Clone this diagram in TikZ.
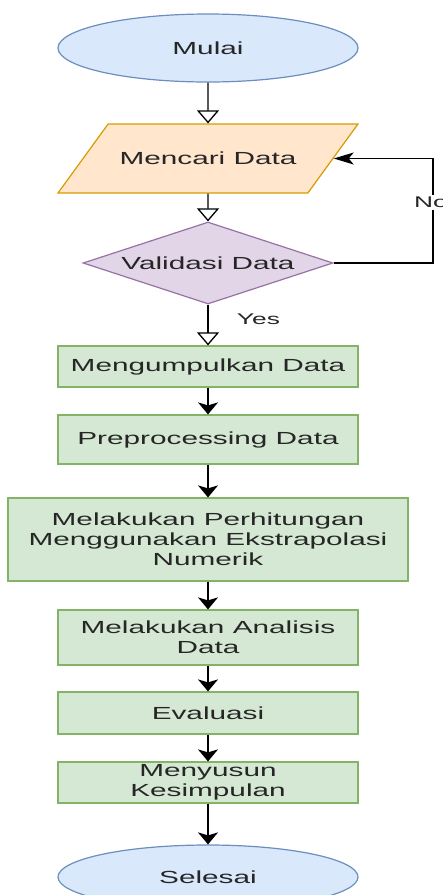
\documentclass[tikz,border=0pt]{standalone}
\usepackage{fontspec}
\setmainfont[FakeStretch=1.7]{Liberation Sans}
\usetikzlibrary{shapes.geometric,arrows.meta,positioning}
\definecolor{bluefill}{HTML}{DAE8FC}
\definecolor{bluedraw}{HTML}{6C8EBF}
\definecolor{orangefill}{HTML}{FFE6CC}
\definecolor{orangedraw}{HTML}{D79B00}
\definecolor{purplefill}{HTML}{E1D5E7}
\definecolor{purpledraw}{HTML}{9673A6}
\definecolor{greenfill}{HTML}{D5E8D4}
\definecolor{greendraw}{HTML}{82B366}

\begin{document}
\begin{tikzpicture}[x=1pt, y=-1pt,
  every node/.style={font=\fontsize{17.5}{20}\selectfont, text=black!85},
  terminal/.style={ellipse, draw=bluedraw, fill=bluefill, line width=1.2pt, minimum width=300pt, minimum height=68pt, inner sep=0pt},
  inputbox/.style={trapezium, trapezium stretches body=true, trapezium left angle=54, trapezium right angle=126, draw=orangedraw, fill=orangefill, line width=1.2pt, minimum width=300pt, text height=12.6pt, text depth=0pt, inner xsep=0pt, inner ysep=28.2pt},
  decision/.style={diamond, aspect=3.05, draw=purpledraw, fill=purplefill, line width=1.2pt, minimum width=250pt, minimum height=82pt, inner sep=0pt},
  process/.style={rectangle, draw=greendraw, fill=greenfill, line width=1.2pt, minimum width=300pt, inner sep=0pt, align=center},
  lbl/.style={font=\fontsize{15.5}{18}\selectfont},
  openarr/.style={-{Triangle[open, length=13pt, width=22pt, fill=white]}, line width=1.3pt},
  arr/.style={-{Stealth[length=12pt, width=20pt, inset=3pt]}, line width=1.3pt},
]
\useasboundingbox (0,0) rectangle (443,895);

% awal
\node[terminal] (mulai) at (208,48) {Mulai};
\node[inputbox] (mencari) at (208,158.5) {Mencari Data};
\node[decision] (valid) at (208,263) {Validasi Data};

% proses
\node[process, minimum height=41pt] (kumpul) at (208,366.5) {Mengumpulkan Data};
\node[process, minimum height=49pt] (prepro) at (208,439.5) {Preprocessing Data};
\node[process, minimum width=400pt, minimum height=83pt] (hitung) at (208,539.5) {Melakukan Perhitungan\\Menggunakan Ekstrapolasi\\Numerik};
\node[process, minimum height=55pt] (analisis) at (208,637.5) {Melakukan Analisis\\Data};
\node[process, minimum height=42pt] (evaluasi) at (208,713) {Evaluasi};
\node[process, minimum height=41pt] (simpul) at (208,782.5) {Menyusun\\Kesimpulan};

% akhir
\node[terminal, minimum height=64pt] (selesai) at (208,877) {Selesai};

\draw[openarr] (mulai) -- (mencari);
\draw[openarr] (mencari) -- (valid);
\draw[openarr] (valid) -- node[lbl, pos=0.36, right=25pt] {Yes} (kumpul);
\draw[-{Stealth[length=20pt, width=12pt, inset=5pt]}, line width=1.3pt] (valid.east) -- (433,263) |- node[lbl, pos=0.29, xshift=-2pt, fill=white, inner sep=2pt] {No} (mencari.east);

\draw[arr] (kumpul) -- (prepro);
\draw[arr] (prepro) -- (hitung);
\draw[arr] (hitung) -- (analisis);
\draw[arr] (analisis) -- (evaluasi);
\draw[arr] (evaluasi) -- (simpul);
\draw[arr] (simpul) -- (selesai);
\end{tikzpicture}
\end{document}
